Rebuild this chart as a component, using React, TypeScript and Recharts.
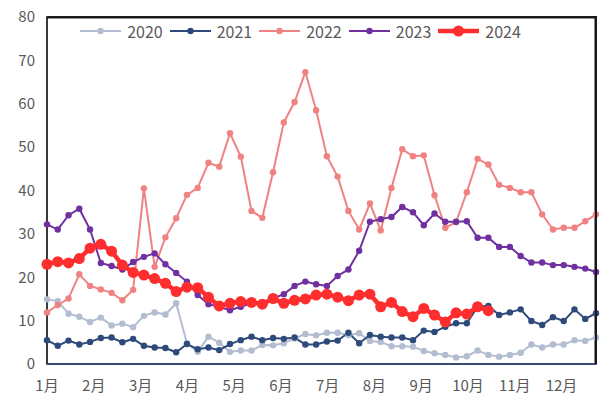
import React from 'react';
import { LineChart, Line, XAxis, YAxis, Legend, ReferenceArea, ReferenceLine } from 'recharts';

const monthLabels = ['1月', '2月', '3月', '4月', '5月', '6月', '7月', '8月', '9月', '10月', '11月', '12月'];
const yTicks = [0, 10, 20, 30, 40, 50, 60, 70, 80];

const s2020 = [14.9, 14.5, 11.6, 10.9, 9.7, 10.7, 8.9, 9.3, 8.5, 11.1, 11.9, 11.4, 14.0, 4.8, 2.8, 6.3, 4.9, 2.8, 3.1, 3.1, 4.4, 4.3, 4.8, 5.9, 6.9, 6.6, 7.2, 7.2, 6.7, 7.1, 5.3, 5.1, 4.1, 4.1, 4.0, 3.0, 2.5, 2.1, 1.5, 1.8, 3.1, 2.1, 1.7, 2.1, 2.6, 4.5, 3.8, 4.5, 4.5, 5.5, 5.3, 6.1];
const s2021 = [5.5, 4.2, 5.4, 4.5, 5.1, 6.0, 6.1, 5.0, 5.8, 4.2, 3.8, 3.7, 2.7, 4.6, 3.4, 3.8, 3.2, 4.6, 5.5, 6.3, 5.5, 6.0, 5.8, 6.1, 4.5, 4.5, 5.2, 5.4, 7.2, 4.8, 6.7, 6.3, 6.1, 6.1, 5.5, 7.7, 7.4, 8.6, 9.4, 9.4, 13.2, 13.4, 11.3, 11.9, 12.6, 9.9, 9.0, 10.8, 9.9, 12.6, 10.4, 11.7];
const s2022 = [11.9, 13.6, 15.1, 20.7, 18.0, 17.2, 16.4, 14.7, 17.1, 40.5, 22.4, 29.2, 33.6, 39.0, 40.6, 46.4, 45.5, 53.2, 47.8, 35.3, 33.7, 44.2, 55.7, 60.4, 67.3, 58.5, 47.9, 43.2, 35.3, 31.0, 37.0, 30.8, 40.6, 49.5, 47.9, 48.1, 38.9, 31.4, 32.7, 39.6, 47.3, 46.0, 41.3, 40.6, 39.6, 39.6, 34.5, 31.0, 31.4, 31.4, 32.9, 34.5];
const s2023 = [32.2, 31.0, 34.3, 35.8, 31.0, 23.3, 22.6, 21.8, 23.5, 24.7, 25.5, 23.0, 21.0, 19.0, 15.9, 13.8, 13.2, 12.4, 13.2, 14.0, 14.0, 15.1, 16.1, 18.0, 19.0, 18.4, 18.0, 20.3, 21.8, 26.1, 32.8, 33.4, 33.9, 36.2, 35.0, 32.0, 34.7, 32.8, 32.8, 32.9, 29.1, 29.1, 27.0, 27.0, 24.9, 23.4, 23.4, 22.8, 22.8, 22.4, 22.0, 21.2];
const s2024 = [23.0, 23.6, 23.3, 24.3, 26.7, 27.6, 26.0, 22.8, 21.1, 20.5, 19.7, 18.6, 16.7, 17.7, 17.6, 15.4, 13.4, 14.0, 14.4, 14.2, 13.8, 15.1, 14.0, 14.7, 15.0, 15.9, 16.1, 15.4, 14.6, 15.9, 16.1, 13.2, 14.2, 12.1, 10.9, 12.8, 11.3, 9.7, 11.8, 11.5, 13.2, 12.3];

const weeksPerMonth = 365 / 12 / 7;
const monthTicks = monthLabels.map((_, k) => k * weeksPerMonth);

const data = s2020.map((_, i) => ({
  w: i,
  y2020: s2020[i],
  y2021: s2021[i],
  y2022: s2022[i],
  y2023: s2023[i],
  y2024: i < s2024.length ? s2024[i] : null,
}));

const seriesDefs = [
  { key: 'y2020', name: '2020', color: '#B3BDD0', width: 2, r: 3.2 },
  { key: 'y2021', name: '2021', color: '#2E4A7A', width: 2, r: 3.2 },
  { key: 'y2022', name: '2022', color: '#F08282', width: 2, r: 3.2 },
  { key: 'y2023', name: '2023', color: '#7030A0', width: 2, r: 3.2 },
  { key: 'y2024', name: '2024', color: '#FF2E2E', width: 4.5, r: 5.5 },
];

const FONT = '"Noto Sans CJK SC", "Noto Sans", sans-serif';
const TEXT = '#595959';

const LegendContent = () => (
  <div style={{ display: 'flex', justifyContent: 'center', alignItems: 'center', fontFamily: FONT, fontSize: 16, color: TEXT, lineHeight: '20px' }}>
    {seriesDefs.map((s) => (
      <div key={s.key} style={{ display: 'flex', alignItems: 'center', marginRight: 7 }}>
        <svg width={41} height={12} style={{ marginRight: 6 }}>
          <line x1={0} y1={6} x2={41} y2={6} stroke={s.color} strokeWidth={s.width} />
          <circle cx={20.5} cy={6} r={s.r} fill={s.color} />
        </svg>
        <span>{s.name}</span>
      </div>
    ))}
  </div>
);

export default function App() {
  return (
    <div style={{ position: 'relative', width: 608, height: 400, margin: '-8px 0 0 -8px', background: '#fff' }}>
      <LineChart width={608} height={400} data={data} margin={{ top: 17, right: 12, bottom: 0, left: 0 }}>
        <XAxis
          dataKey="w"
          type="number"
          domain={[0, 51]}
          ticks={monthTicks}
          interval={0}
          tickFormatter={(_v: number, i: number) => monthLabels[i]}
          tick={{ fill: TEXT, fontSize: 15, fontFamily: FONT }}
          tickLine={false}
          tickSize={0}
          tickMargin={16}
          height={36}
          axisLine={{ stroke: '#2E4A7A', strokeWidth: 1.5 }}
        />
        <YAxis
          domain={[0, 80]}
          ticks={yTicks}
          interval={0}
          tick={{ fill: TEXT, fontSize: 15, fontFamily: FONT }}
          tickLine={false}
          tickSize={0}
          tickMargin={12}
          width={47}
          axisLine={{ stroke: '#333', strokeWidth: 1.5 }}
        />
        <ReferenceArea x1={0} x2={51} y1={0} y2={80} fill="none" fillOpacity={0} stroke="#1a1a1a" strokeWidth={1.5} ifOverflow="visible" />
        <ReferenceLine y={79.9} stroke="#1a1a1a" strokeWidth={2} ifOverflow="visible" />
        <ReferenceLine x={50.95} stroke="#1a1a1a" strokeWidth={2} ifOverflow="visible" />
        <Legend
          verticalAlign="middle"
          align="center"
          content={<LegendContent />}
          wrapperStyle={{ top: 21, left: 0, width: 608 }}
        />
        {seriesDefs.map((s) => (
          <Line
            key={s.key}
            dataKey={s.key}
            name={s.name}
            stroke={s.color}
            strokeWidth={s.width}
            dot={{ r: s.r, fill: s.color, stroke: s.color, strokeWidth: 0 }}
            activeDot={false}
            isAnimationActive={false}
            connectNulls={false}
          />
        ))}
      </LineChart>
      <div
        style={{
          position: 'absolute',
          left: 47,
          top: 16,
          width: 550,
          height: 348,
          borderTop: '2px solid #1a1a1a',
          borderRight: '2px solid #1a1a1a',
          boxSizing: 'border-box',
          pointerEvents: 'none',
          zIndex: 10,
        }}
      />
    </div>
  );
}
